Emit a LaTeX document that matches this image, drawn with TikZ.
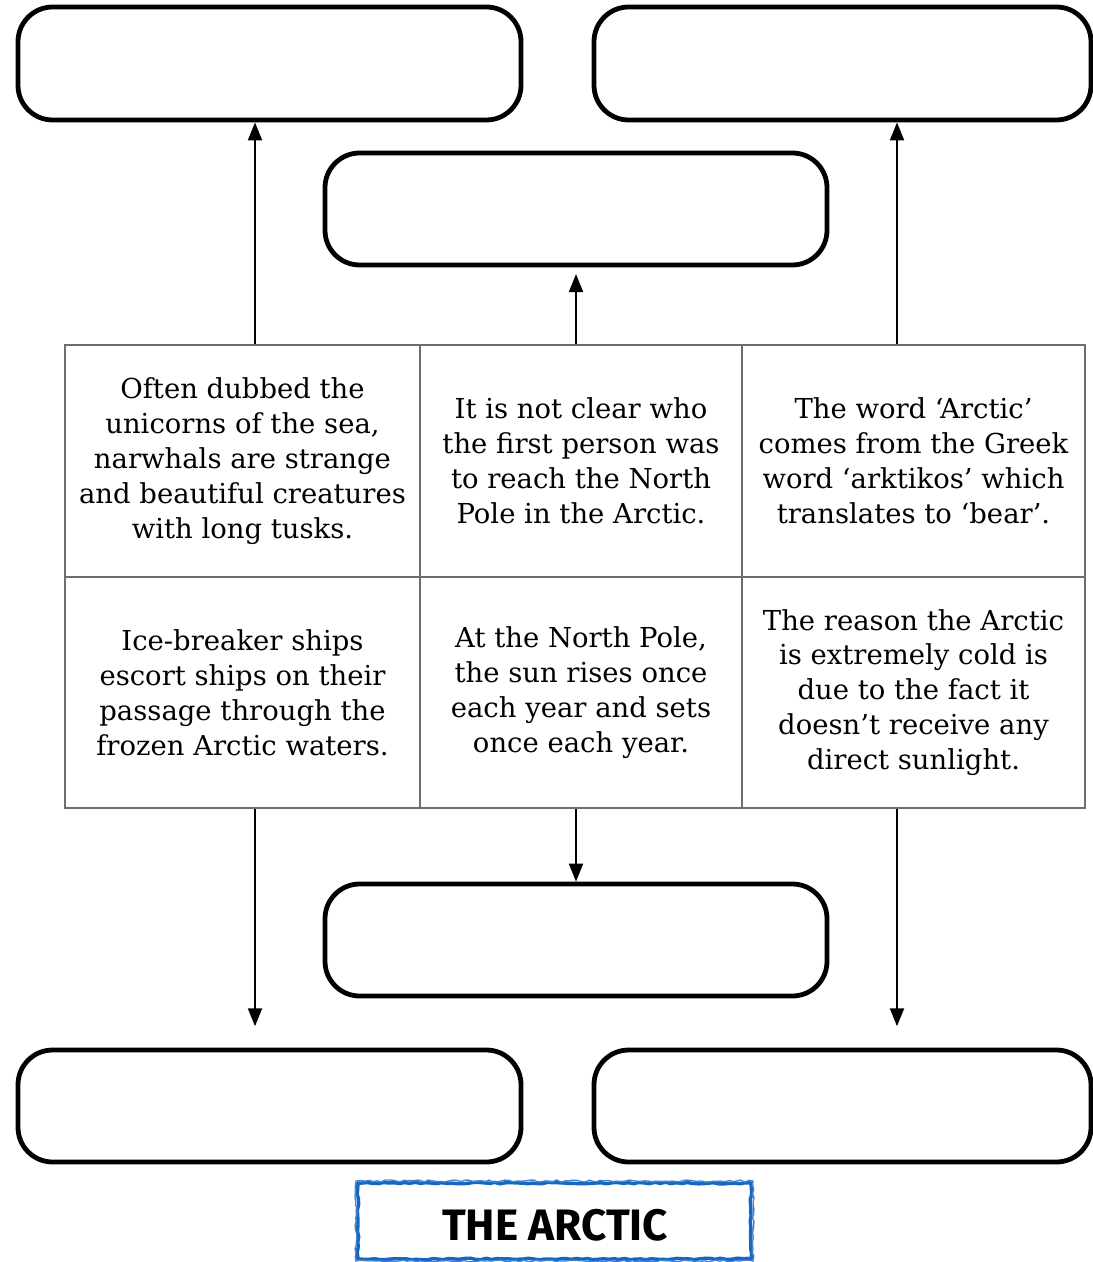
\documentclass[tikz,border=0pt]{standalone}
\usepackage{fontspec}
\setmainfont{DejaVu Serif}
\newfontfamily\titlefont{Fira Sans}
\usetikzlibrary{arrows.meta,decorations.pathmorphing}
\definecolor{gridgray}{HTML}{6B6E72}
\definecolor{titleblue}{HTML}{1766C2}
\tikzset{
  cell/.style={draw=gridgray, line width=1.5pt, inner sep=0pt, align=center,
    font=\fontsize{20.6}{26.2}\selectfont},
  answer/.style={draw=black, line width=3.6pt, rounded corners=26pt, inner sep=0pt},
  arr/.style={line width=1.5pt, -{Triangle[length=13.5pt,width=10.5pt]}},
}
\begin{document}
\begin{tikzpicture}[x=0.75pt,y=-0.75pt]
\useasboundingbox (0,0) rectangle (1092,1262);
% answer boxes
\node[answer, minimum width=377.25pt, minimum height=84.75pt] (tl) at (269.5,63.5) {};
\node[answer, minimum width=372.75pt, minimum height=84.75pt] (tr) at (842.5,63.5) {};
\node[answer, minimum width=376.5pt, minimum height=84pt] (mt) at (576,209) {};
\node[answer, minimum width=376.5pt, minimum height=84pt] (mb) at (576,940) {};
\node[answer, minimum width=377.25pt, minimum height=84pt] (bl) at (269.5,1106) {};
\node[answer, minimum width=372.75pt, minimum height=84pt] (br) at (842.5,1106) {};
% grid cells
\node[cell, minimum width=266.25pt, minimum height=174pt] (c11) at (242.5,461)
  {Often dubbed the\\unicorns of the sea,\\narwhals are strange\\and beautiful creatures\\with long tusks.};
\node[cell, minimum width=241.5pt, minimum height=174pt] (c12) at (581,461)
  {It is not clear who\\the first person was\\to reach the North\\Pole in the Arctic.};
\node[cell, minimum width=257.25pt, minimum height=174pt] (c13) at (913.5,461)
  {The word ‘Arctic’\\comes from the Greek\\word ‘arktikos’ which\\translates to ‘bear’.};
\node[cell, minimum width=266.25pt, minimum height=173.25pt] (c21) at (242.5,692.5)
  {Ice-breaker ships\\escort ships on their\\passage through the\\frozen Arctic waters.};
\node[cell, minimum width=241.5pt, minimum height=173.25pt] (c22) at (581,692.5)
  {At the North Pole,\\the sun rises once\\each year and sets\\once each year.};
\node[cell, minimum width=257.25pt, minimum height=173.25pt] (c23) at (913.5,692.5)
  {The reason the Arctic\\is extremely cold is\\due to the fact it\\doesn’t receive any\\direct sunlight.};
% arrow columns
\coordinate (xl) at (255,0);
\coordinate (xm) at (576,0);
\coordinate (xr) at (897,0);
\draw[arr] (c11.north -| xl) -- (tl.south -| xl);
\draw[arr, shorten >=5pt] (c12.north -| xm) -- (mt.south -| xm);
\draw[arr] (c13.north -| xr) -- (tr.south -| xr);
\draw[arr, shorten >=16pt] (c21.south -| xl) -- (bl.north -| xl);
\draw[arr] (c22.south -| xm) -- (mb.north -| xm);
\draw[arr, shorten >=16pt] (c23.south -| xr) -- (br.north -| xr);
% title
\draw[titleblue, line width=2.6pt, decorate, decoration={random steps, segment length=4pt, amplitude=0.6pt}]
  (358,1183) rectangle (751,1259);
\draw[titleblue!80, line width=1pt, decorate, decoration={random steps, segment length=3pt, amplitude=0.8pt}]
  (356,1181) rectangle (753,1261);
\node[font=\titlefont\bfseries\fontsize{33}{33}\selectfont, inner sep=0pt] (title) at (555,1225) {THE ARCTIC};
\end{tikzpicture}
\end{document}
